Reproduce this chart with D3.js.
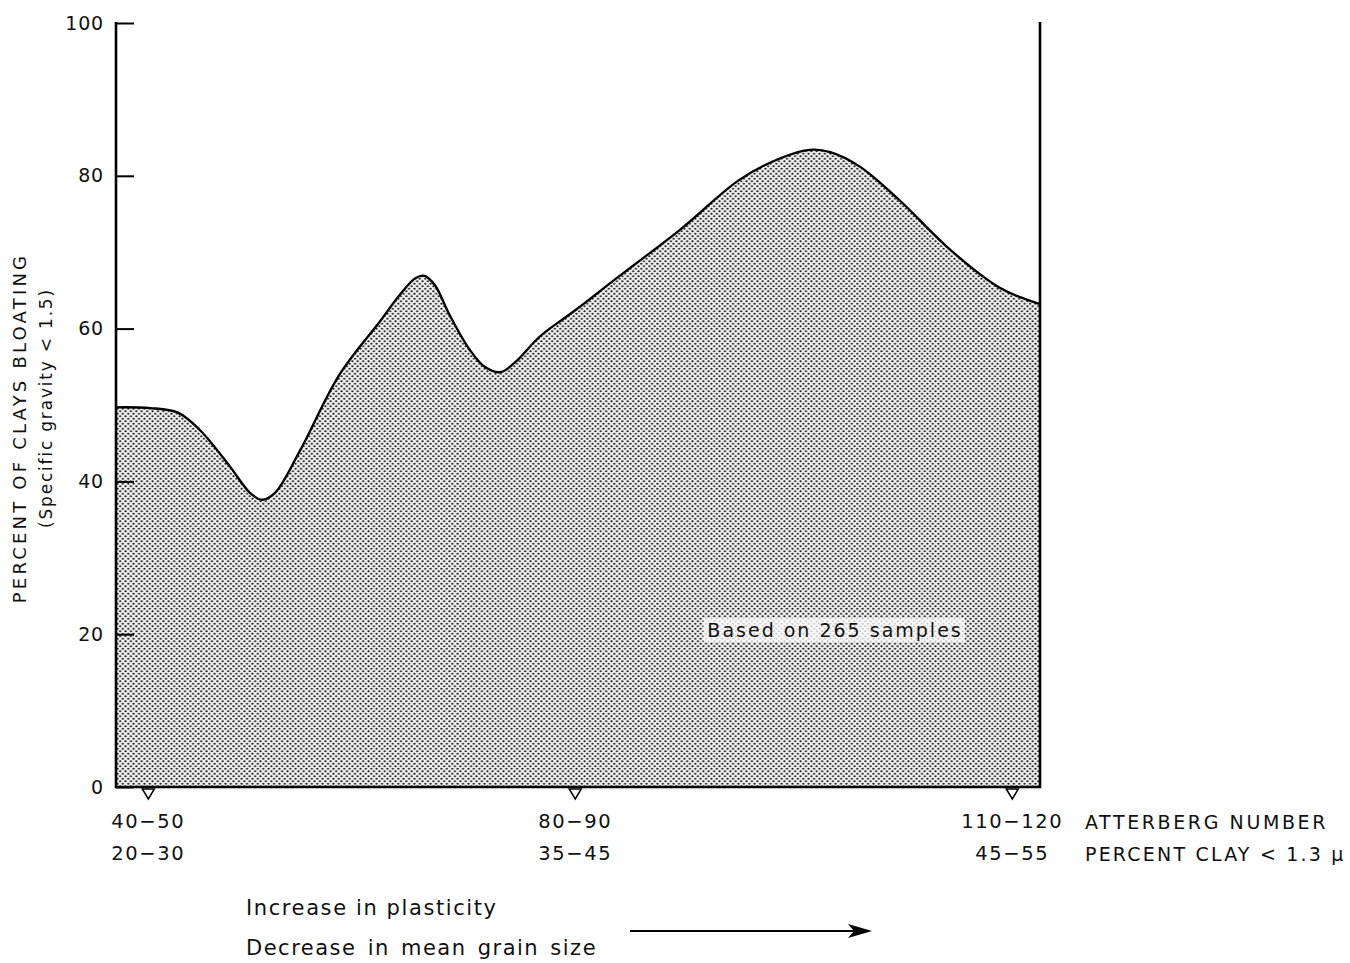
<!DOCTYPE html>
<html lang="en">
<head>
  <meta charset="UTF-8">
  <title>Percent of clays bloating</title>
  <script src="https://d3js.org/d3.v7.min.js"></script>
  <style>
    body { margin: 0; background: #ffffff; }
    svg text { font-family: "DejaVu Sans", sans-serif; fill: #111111; }
    .axis-line { stroke: #000000; stroke-width: 2.6px; fill: none; }
  </style>
</head>
<body>
  <svg id="chart" width="1350" height="963"></svg>

  <script>
    // position along the horizontal scale (0 = left axis, 100 = right axis)
    const positions = [0, 3.7, 6.7, 9.1, 12.3, 14.5, 15.8, 17.2, 19.9, 24.2, 28.6, 30.7, 32.4, 33.4, 34.5,
                       36.1, 38.3, 39.9, 41.6, 43.2, 45.9, 49.7, 54.5, 61.0, 67.5, 71.9, 75.1, 77.3, 80.5,
                       84.8, 90.3, 95.7, 100];
    const percents = [49.7, 49.6, 49.0, 46.7, 42.0, 38.5, 37.6, 38.5, 44.0, 54.0, 61.0, 64.4, 66.6, 66.9, 65.7,
                      61.8, 57.2, 55.0, 54.3, 55.6, 59.0, 62.4, 66.9, 72.9, 79.5, 82.3, 83.4, 83.1, 81.2,
                      76.8, 70.3, 65.3, 63.2];

    const yTicks = [0, 20, 40, 60, 80, 100];
    const groupPositions = [3.5, 49.7, 97.0];
    const atterbergLabels = ["40\u221250", "80\u221290", "110\u2212120"];
    const clayLabels = ["20\u221230", "35\u221245", "45\u221255"];

    const svg = d3.select("#chart");
    const plotLeft = 116, plotRight = 1040, plotTop = 23, plotBottom = 787;

    const x = d3.scaleLinear().domain([0, 100]).range([plotLeft, plotRight]);
    const y = d3.scaleLinear().domain([0, 100]).range([plotBottom, plotTop]);

    // stipple pattern
    const defs = svg.append("defs");
    const pat = defs.append("pattern")
      .attr("id", "dots")
      .attr("patternUnits", "userSpaceOnUse")
      .attr("width", 5.4).attr("height", 5.0);
    pat.append("rect").attr("width", 5.4).attr("height", 5.0).attr("fill", "#efefef");
    pat.append("circle").attr("cx", 1.35).attr("cy", 1.25).attr("r", 1.1).attr("fill", "#1a1a1a");
    pat.append("circle").attr("cx", 4.05).attr("cy", 3.75).attr("r", 1.1).attr("fill", "#1a1a1a");

    const pts = positions.map((p, i) => [p, percents[i]]);

    const area = d3.area()
      .x(d => x(d[0]))
      .y0(y(0))
      .y1(d => y(d[1]))
      .curve(d3.curveCatmullRom.alpha(0.5));

    const line = d3.line()
      .x(d => x(d[0]))
      .y(d => y(d[1]))
      .curve(d3.curveCatmullRom.alpha(0.5));

    svg.append("path").datum(pts).attr("d", area).attr("fill", "url(#dots)");
    svg.append("path").datum(pts).attr("d", line)
      .attr("fill", "none").attr("stroke", "#000").attr("stroke-width", 2.3);

    // note box
    const note = svg.append("g").attr("transform", `translate(${x(64.0)},${y(20.5)})`);
    const noteText = note.append("text")
      .attr("font-size", 19).attr("letter-spacing", 2).attr("dy", "0.35em")
      .text("Based on 265 samples");
    const bb = noteText.node().getBBox();
    note.insert("rect", "text")
      .attr("x", bb.x - 4).attr("y", bb.y - 1)
      .attr("width", bb.width + 6).attr("height", bb.height + 2)
      .attr("fill", "#ffffff").attr("opacity", 0.75);

    // left axis
    const yAxis = d3.axisRight(y).tickValues(yTicks).tickSize(18).tickFormat("");
    const ya = svg.append("g").attr("transform", `translate(${plotLeft},0)`).call(yAxis);
    ya.select(".domain").remove();
    ya.selectAll(".tick line").attr("stroke", "#000").attr("stroke-width", 2);
    svg.append("line").attr("class", "axis-line")
      .attr("x1", plotLeft).attr("x2", plotLeft).attr("y1", y(100) - 1).attr("y2", y(0) + 1);

    svg.selectAll(".ylab").data(yTicks).join("text")
      .attr("class", "ylab")
      .attr("x", plotLeft - 12).attr("y", d => y(d))
      .attr("dy", "0.35em").attr("text-anchor", "end")
      .attr("font-size", 19).attr("letter-spacing", 0.8)
      .text(d => d);

    // right border and bottom axis
    svg.append("line").attr("class", "axis-line")
      .attr("x1", plotRight).attr("x2", plotRight).attr("y1", y(100) - 1).attr("y2", y(0) + 1);
    svg.append("line").attr("class", "axis-line")
      .attr("x1", plotLeft - 1).attr("x2", plotRight + 1).attr("y1", y(0)).attr("y2", y(0));

    // triangle markers
    svg.selectAll(".tri").data(groupPositions).join("path")
      .attr("class", "tri")
      .attr("d", d => `M${x(d) - 6},${plotBottom + 2} L${x(d) + 6},${plotBottom + 2} L${x(d)},${plotBottom + 12} Z`)
      .attr("fill", "#fff").attr("stroke", "#000").attr("stroke-width", 1.5);

    svg.selectAll(".atl").data(groupPositions).join("text")
      .attr("class", "atl")
      .attr("x", d => x(d)).attr("y", 828)
      .attr("text-anchor", "middle").attr("font-size", 19.5).attr("letter-spacing", 1.6)
      .text((d, i) => atterbergLabels[i]);
    svg.selectAll(".cll").data(groupPositions).join("text")
      .attr("class", "cll")
      .attr("x", d => x(d)).attr("y", 860)
      .attr("text-anchor", "middle").attr("font-size", 19.5).attr("letter-spacing", 1.6)
      .text((d, i) => clayLabels[i]);

    svg.append("text").attr("x", 1085).attr("y", 829)
      .attr("font-size", 19).attr("letter-spacing", 2.6)
      .text("ATTERBERG NUMBER");
    svg.append("text").attr("x", 1085).attr("y", 861)
      .attr("font-size", 19).attr("letter-spacing", 2.2)
      .text("PERCENT CLAY < 1.3 \u03BC");

    // y axis titles
    svg.append("text")
      .attr("transform", "translate(26,428) rotate(-90)")
      .attr("text-anchor", "middle").attr("font-size", 18).attr("letter-spacing", 3.2)
      .text("PERCENT OF CLAYS BLOATING");
    svg.append("text")
      .attr("transform", "translate(52,408) rotate(-90)")
      .attr("text-anchor", "middle").attr("font-size", 17).attr("letter-spacing", 1.8)
      .text("(Specific  gravity < 1.5)");

    // bottom notes and arrow
    svg.append("text").attr("x", 246).attr("y", 915)
      .attr("font-size", 21).attr("letter-spacing", 1.6)
      .text("Increase in plasticity");
    svg.append("text").attr("x", 246).attr("y", 955)
      .attr("font-size", 21).attr("letter-spacing", 1.5)
      .attr("word-spacing", 3)
      .text("Decrease in mean grain size");

    const arrowY = 931, arrowX0 = 630, arrowX1 = 872;
    svg.append("line")
      .attr("x1", arrowX0).attr("x2", arrowX1 - 12).attr("y1", arrowY).attr("y2", arrowY)
      .attr("stroke", "#000").attr("stroke-width", 2);
    svg.append("path")
      .attr("d", `M${arrowX1 - 24},${arrowY - 7} L${arrowX1},${arrowY} L${arrowX1 - 24},${arrowY + 7} L${arrowX1 - 18},${arrowY} Z`)
      .attr("fill", "#000");
  </script>
</body>
</html>
